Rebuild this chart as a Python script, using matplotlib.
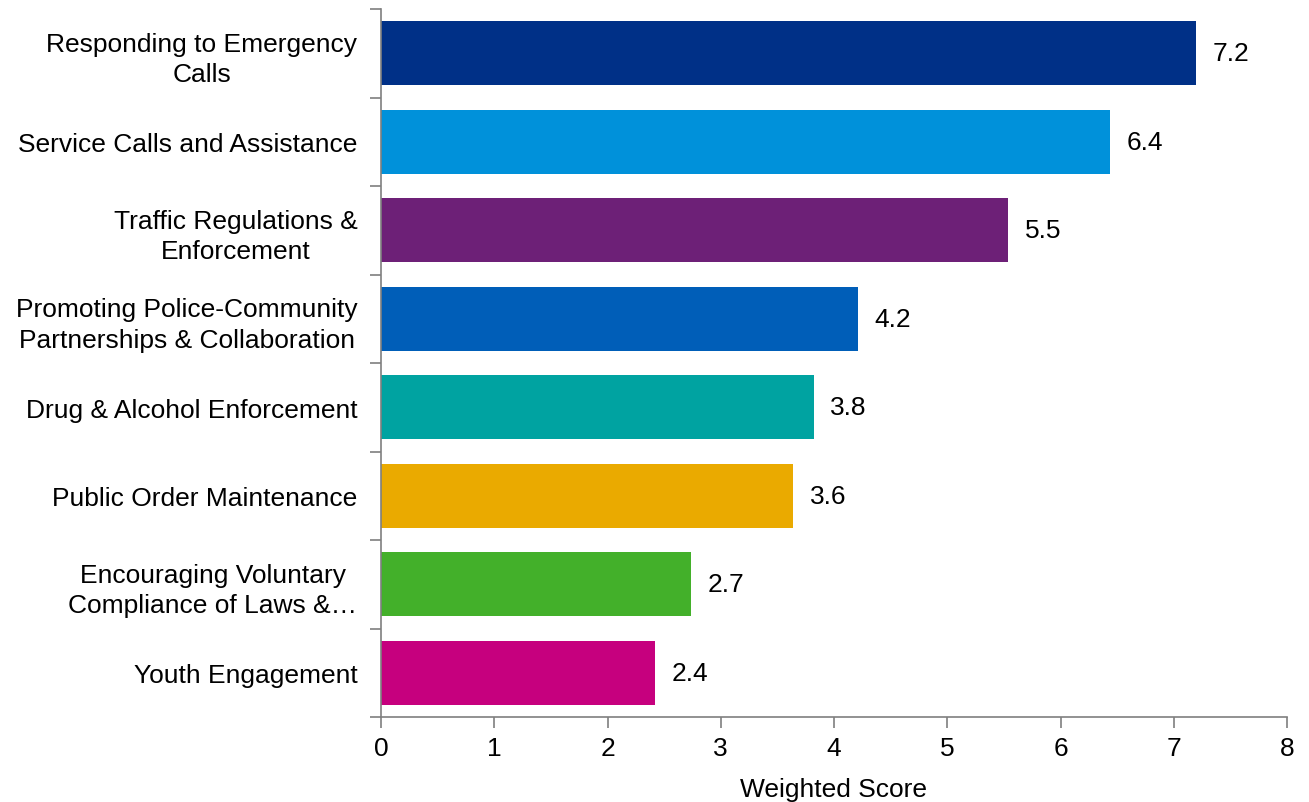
import numpy as np
import matplotlib.pyplot as plt
from matplotlib.ticker import MultipleLocator, FixedLocator

plt.rcParams['font.family'] = ['Liberation Sans', 'DejaVu Sans']

categories = [
    "Responding to Emergency\nCalls",
    "Service Calls and Assistance",
    "Traffic Regulations &\nEnforcement",
    "Promoting Police-Community\nPartnerships & Collaboration",
    "Drug & Alcohol Enforcement",
    "Public Order Maintenance",
    "Encouraging Voluntary\nCompliance of Laws &\u2026",
    "Youth Engagement",
]
scores = [7.20, 6.44, 5.54, 4.21, 3.82, 3.64, 2.74, 2.42]
colors = ["#003087", "#0091DA", "#6D2077", "#005EB8",
          "#00A3A1", "#EAAA00", "#43B02A", "#C6007E"]

fig = plt.figure(figsize=(13.09, 8.03), dpi=100)
ax = fig.add_axes([381/1309, 1 - 718/803, (1287-381)/1309, (718-10)/803])

y = np.arange(len(categories))
bars = ax.barh(y, scores, height=0.72, color=colors)
ax.set_ylim(len(categories) - 0.5, -0.5)
ax.set_xlim(0, 8)

ax.bar_label(bars, fmt='%.1f', padding=12, fontsize=19)

ax.set_yticks(y)
ax.set_yticklabels(categories, fontsize=19, multialignment='center', linespacing=1.35)
ax.yaxis.set_minor_locator(FixedLocator(np.arange(-0.5, len(categories), 1.0)))
ax.tick_params(axis='y', which='major', length=0, pad=17)
ax.tick_params(axis='y', which='minor', length=8, color='#7f7f7f', width=1.2)

ax.xaxis.set_major_locator(MultipleLocator(1))
ax.tick_params(axis='x', which='major', length=8, color='#7f7f7f', width=1.2,
               labelsize=19, pad=6)
ax.set_xlabel('Weighted Score', fontsize=19, labelpad=12)

for s in ['top', 'right']:
    ax.spines[s].set_visible(False)
for s in ['left', 'bottom']:
    ax.spines[s].set_color('#7f7f7f')
    ax.spines[s].set_linewidth(1.2)

plt.savefig('out.png', dpi=100)
